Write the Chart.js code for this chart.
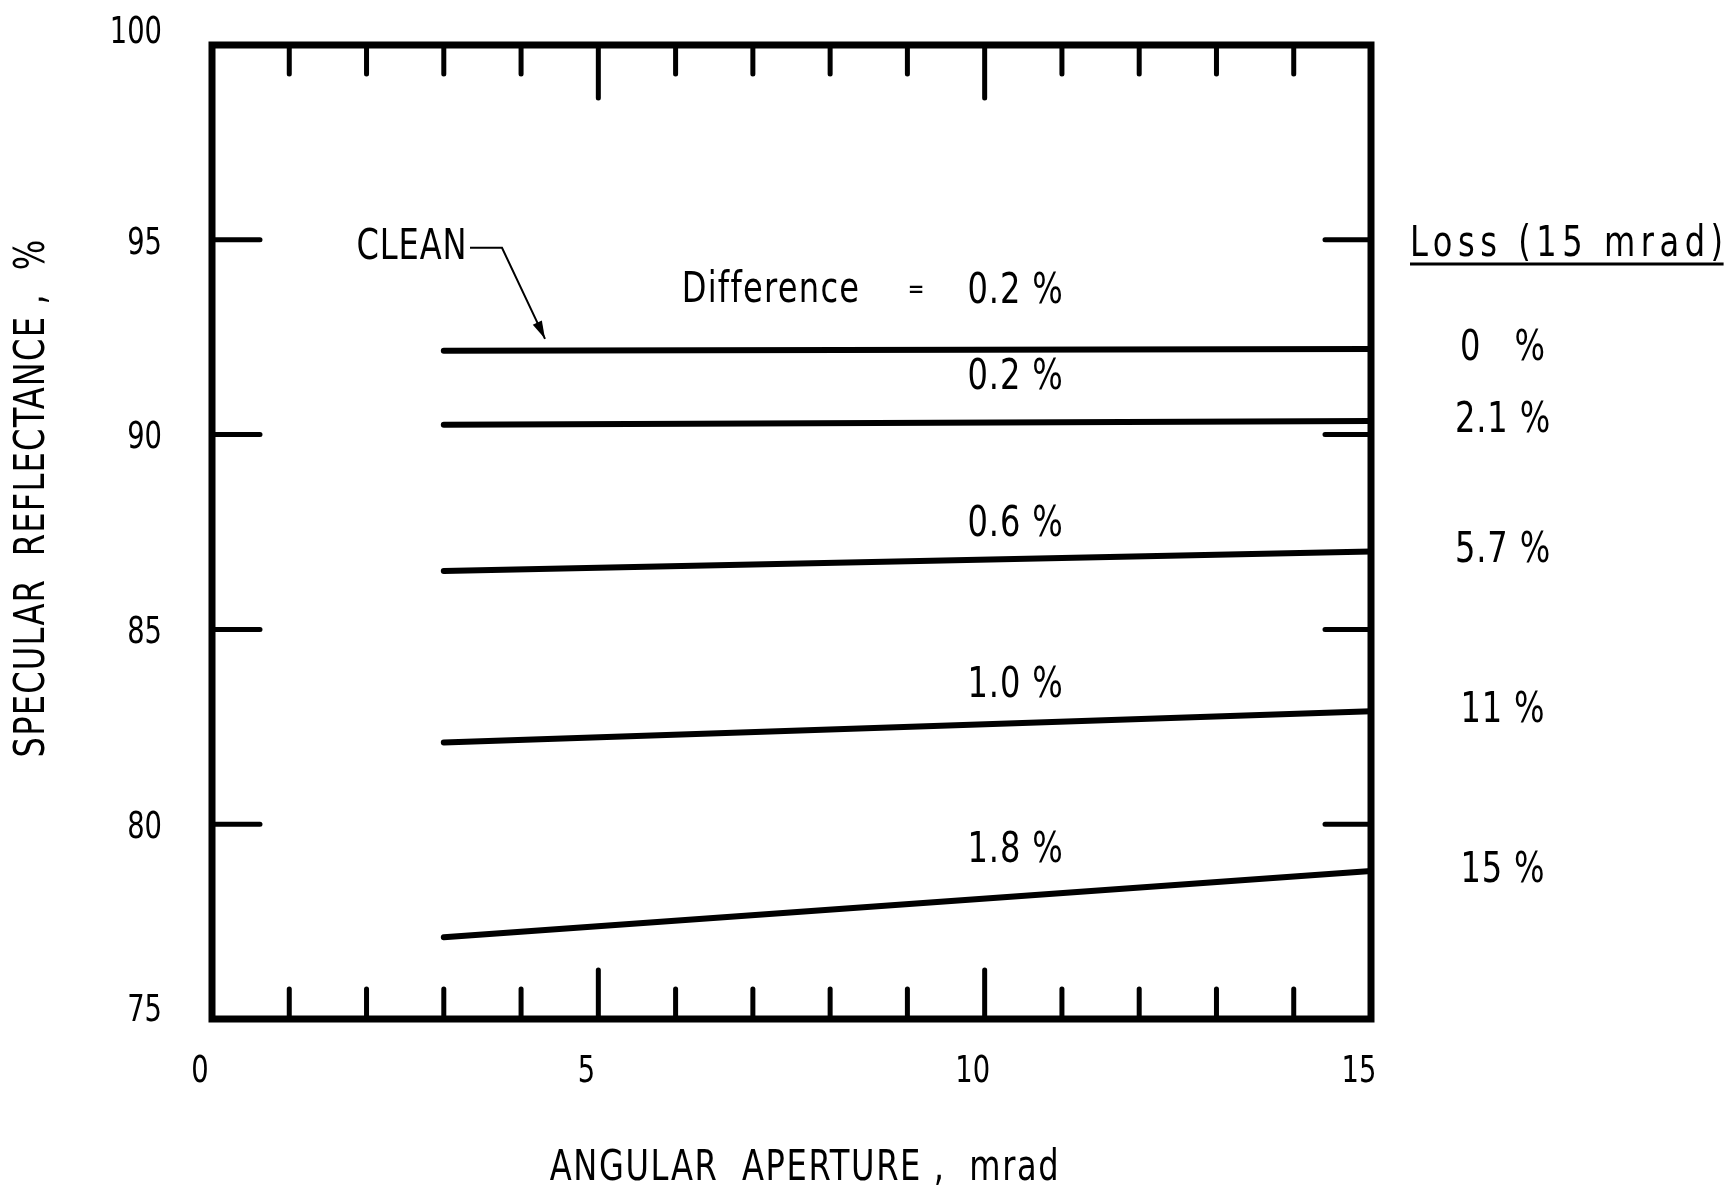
<!DOCTYPE html>
<html>
<head>
<meta charset="utf-8">
<title>Specular reflectance vs angular aperture</title>
<script src="https://cdn.jsdelivr.net/npm/chart.js@4.4.1/dist/chart.umd.min.js"></script>
<style>
  html, body { margin: 0; padding: 0; background: #ffffff; }
  #wrap { width: 1734px; height: 1194px; }
</style>
</head>
<body>
<div id="wrap"><canvas id="chart" width="1734" height="1194"></canvas></div>
<script>
// Angular aperture (mrad) at the two ends of each measured curve
const apertureMrad = [3, 15];

// Specular reflectance (%) for each sample, at 3 and 15 mrad
const reflClean = [92.15, 92.2];
const reflLoss2 = [90.25, 90.35];
const reflLoss6 = [86.5, 87.0];
const reflLoss11 = [82.1, 82.9];
const reflLoss15 = [77.1, 78.8];

// Text printed beside the curves
const differenceLabels = ['0.2 %', '0.2 %', '0.6 %', '1.0 %', '1.8 %'];
const lossLabels = ['0   %', '2.1 %', '5.7 %', '11 %', '15 %'];

// Axis tick labels
const xTickValues = [0, 5, 10, 15];
const yTickValues = [75, 80, 85, 90, 95, 100];

const seriesList = [reflClean, reflLoss2, reflLoss6, reflLoss11, reflLoss15];

const FONT = '"DejaVu Sans Condensed", "DejaVu Sans", sans-serif';
const INK = '#000000';

const datasets = seriesList.map(vals => ({
  data: apertureMrad.map((x, i) => ({ x: x, y: vals[i] })),
  showLine: true,
  borderColor: INK,
  borderWidth: 6,
  borderCapStyle: 'round',
  pointRadius: 0,
  pointHoverRadius: 0,
  fill: false,
  tension: 0,
  clip: 4
}));

// narrow lettering: condensed face squeezed horizontally
function drawText(ctx, text, x, y, opts) {
  ctx.save();
  ctx.font = (opts.size || 42) + 'px ' + FONT;
  ctx.fillStyle = INK;
  ctx.textAlign = opts.align || 'center';
  ctx.textBaseline = 'middle';
  ctx.letterSpacing = (opts.spacing || 0) + 'px';
  ctx.translate(x, y);
  if (opts.rotate) ctx.rotate(opts.rotate);
  ctx.scale(opts.sx || 0.85, 1);
  ctx.fillText(text, 0, 0);
  const w = ctx.measureText(text).width * (opts.sx || 0.85);
  ctx.restore();
  return w;
}

const framePlugin = {
  id: 'frame',
  beforeDraw(chart) {
    const ctx = chart.ctx;
    ctx.save();
    ctx.fillStyle = '#ffffff';
    ctx.fillRect(0, 0, chart.width, chart.height);
    ctx.restore();
  },
  afterDatasetsDraw(chart) {
    const ctx = chart.ctx;
    const a = chart.chartArea;
    const xs = chart.scales.x;
    const ys = chart.scales.y;

    ctx.save();
    ctx.strokeStyle = INK;
    ctx.lineCap = 'round';

    // inward tick marks on the top and bottom edges, every 1 mrad
    ctx.lineWidth = 5;
    for (let v = xs.min + 1; v < xs.max; v++) {
      const px = xs.getPixelForValue(v);
      const major = v % 5 === 0;
      ctx.beginPath();
      ctx.moveTo(px, a.top);
      ctx.lineTo(px, a.top + (major ? 53 : 29));
      ctx.moveTo(px, a.bottom);
      ctx.lineTo(px, a.bottom - (major ? 49 : 30));
      ctx.stroke();
    }
    // inward tick marks on the left and right edges, every 5 %
    for (const v of yTickValues) {
      if (v <= ys.min || v >= ys.max) continue;
      const py = ys.getPixelForValue(v);
      ctx.beginPath();
      ctx.moveTo(a.left, py);
      ctx.lineTo(a.left + 48, py);
      ctx.moveTo(a.right, py);
      ctx.lineTo(a.right - 46, py);
      ctx.stroke();
    }

    // plot frame
    ctx.lineWidth = 7;
    ctx.lineCap = 'butt';
    ctx.lineJoin = 'miter';
    ctx.strokeRect(a.left, a.top, a.right - a.left, a.bottom - a.top);
    ctx.restore();

    // tick labels
    for (const v of yTickValues) {
      let py = ys.getPixelForValue(v);
      if (v === ys.max) py -= 12;
      else if (v === ys.min) py -= 8;
      else py += 4;
      drawText(ctx, String(v), a.left - 50, py, { size: 38, sx: 0.8, align: 'right' });
    }
    for (const v of xTickValues) {
      const px = xs.getPixelForValue(v) - 12;
      drawText(ctx, String(v), px, a.bottom + 53, { size: 38, sx: 0.8 });
    }

    // axis titles
    drawText(ctx, 'SPECULAR  REFLECTANCE ,  %', 33, 498, { size: 42, spacing: 1.4, rotate: -Math.PI / 2 });
    drawText(ctx, 'ANGULAR  APERTURE ,  mrad', 805, 1169, { size: 42, spacing: 1.9 });

    // difference labels above each curve
    const labelX = xs.getPixelForValue(10.4);
    const labelLift = [58, 44, 34, 37, 45];
    seriesList.forEach((vals, i) => {
      const yAt = vals[0] + (vals[1] - vals[0]) * (10.4 - apertureMrad[0]) / (apertureMrad[1] - apertureMrad[0]);
      const py = ys.getPixelForValue(yAt) - labelLift[i];
      drawText(ctx, differenceLabels[i], labelX, py, { size: 42, spacing: 1 });
    });
    const headY = ys.getPixelForValue(reflClean[1]) - 58;
    drawText(ctx, 'Difference', 771, headY, { size: 42, spacing: 1.5 });
    drawText(ctx, '=', 916, headY, { size: 26 });

    // CLEAN callout with leader and arrow
    const line1Y = ys.getPixelForValue(reflClean[0]);
    const textY = line1Y - 103;
    drawText(ctx, 'CLEAN', 412, textY, { size: 42, spacing: 1 });
    const tipX = xs.getPixelForValue(4.31);
    const tipY = line1Y - 12;
    const kneeX = 502;
    ctx.save();
    ctx.strokeStyle = INK;
    ctx.fillStyle = INK;
    ctx.lineWidth = 2;
    ctx.beginPath();
    ctx.moveTo(470, textY);
    ctx.lineTo(kneeX, textY);
    ctx.lineTo(tipX, tipY);
    ctx.stroke();
    const ang = Math.atan2(tipY - textY, tipX - kneeX);
    const L = 18, W = 5;
    ctx.beginPath();
    ctx.moveTo(tipX, tipY);
    ctx.lineTo(tipX - L * Math.cos(ang) + W * Math.sin(ang), tipY - L * Math.sin(ang) - W * Math.cos(ang));
    ctx.lineTo(tipX - L * Math.cos(ang) - W * Math.sin(ang), tipY - L * Math.sin(ang) + W * Math.cos(ang));
    ctx.closePath();
    ctx.fill();
    ctx.restore();

    // loss column at the right, level with each curve's 15 mrad end
    const headerX = 1410;
    const headerY = ys.getPixelForValue(reflClean[1]) - 104;
    const hw = drawText(ctx, 'Loss (15 mrad)', headerX, headerY, { size: 42, spacing: 6.5, align: 'left' });
    ctx.save();
    ctx.strokeStyle = INK;
    ctx.lineWidth = 3;
    ctx.beginPath();
    ctx.moveTo(headerX, headerY + 19);
    ctx.lineTo(headerX + hw - 5, headerY + 19);
    ctx.stroke();
    ctx.restore();
    seriesList.forEach((vals, i) => {
      const py = ys.getPixelForValue(vals[vals.length - 1]);
      drawText(ctx, lossLabels[i], 1503, py, { size: 42, spacing: 1 });
    });
  }
};

new Chart(document.getElementById('chart'), {
  type: 'scatter',
  data: { datasets: datasets },
  options: {
    responsive: false,
    animation: false,
    devicePixelRatio: 1,
    layout: { padding: { top: 45, right: 363, bottom: 0, left: 0 } },
    plugins: { legend: { display: false }, tooltip: { enabled: false } },
    scales: {
      x: {
        type: 'linear',
        min: 0,
        max: 15,
        grid: { display: false, drawTicks: false },
        border: { display: false },
        afterBuildTicks: s => { s.ticks = xTickValues.map(v => ({ value: v })); },
        afterFit: s => { s.height = 175; },
        ticks: { display: false }
      },
      y: {
        type: 'linear',
        min: 75,
        max: 100,
        grid: { display: false, drawTicks: false },
        border: { display: false },
        afterBuildTicks: s => { s.ticks = yTickValues.map(v => ({ value: v })); },
        afterFit: s => { s.width = 212; },
        ticks: { display: false }
      }
    }
  },
  plugins: [framePlugin]
});
</script>
</body>
</html>
